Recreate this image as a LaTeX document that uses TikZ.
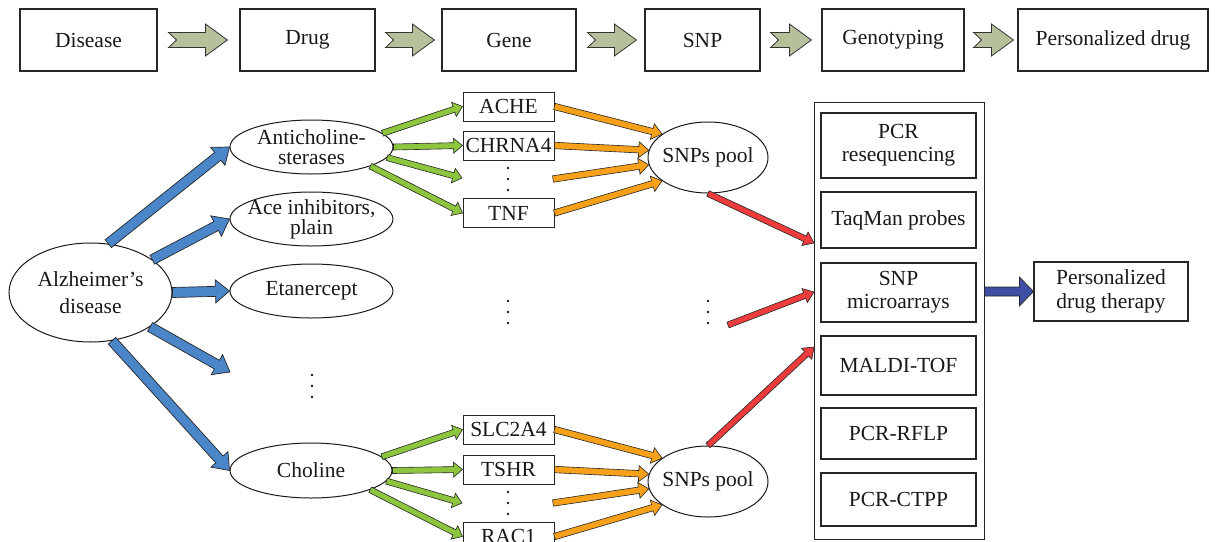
\documentclass[tikz,border=0pt]{standalone}
\usepackage{fontspec}
\setmainfont{Liberation Serif}
\usetikzlibrary{shapes.geometric,calc}
\definecolor{khakiA}{HTML}{B6C19C}
\definecolor{blueA}{HTML}{4A86C8}
\definecolor{greenA}{HTML}{8DC53E}
\definecolor{orangeA}{HTML}{F7A11A}
\definecolor{redA}{HTML}{EE3B3B}
\definecolor{navyA}{HTML}{3F4FA5}
% #1 style, #2 from, #3 to, #4 shaft half width, #5 head half width, #6 head length, #7 tail notch
\newcommand\blockar[7]{%
 \path[#1] let \p1=(#2), \p2=(#3), \n1={atan2(\y2-\y1,\x2-\x1)}, \n2={veclen(\x2-\x1,\y2-\y1)} in
 ([shift={(\p1)},rotate=\n1]0,#4) -- ([shift={(\p1)},rotate=\n1]\n2-#6,#4)
 -- ([shift={(\p1)},rotate=\n1]\n2-#6,#5) -- (\p2)
 -- ([shift={(\p1)},rotate=\n1]\n2-#6,-#5) -- ([shift={(\p1)},rotate=\n1]\n2-#6,-#4)
 -- ([shift={(\p1)},rotate=\n1]0,-#4) -- ([shift={(\p1)},rotate=\n1]#7,0) -- cycle;}
\begin{document}
\begin{tikzpicture}[x=1pt,y=-1pt,
  every node/.style={font=\fontsize{21.5}{23}\selectfont, text=black!90},
  box/.style={draw=black!85, line width=1.1pt, fill=white, rectangle, inner sep=0pt, align=center},
  ell/.style={draw=black!90, line width=1pt, fill=white, ellipse, inner sep=0pt},
  lbl/.style={inner sep=0pt, align=center},
  chev/.style={draw=black!80, line width=0.8pt, fill=khakiA, line join=miter},
  bluear/.style={draw=black!85, line width=0.7pt, fill=blueA},
  greenar/.style={draw=black!85, line width=0.6pt, fill=greenA},
  orangear/.style={draw=black!85, line width=0.6pt, fill=orangeA},
  redar/.style={draw=black!85, line width=0.6pt, fill=redA},
  navyar/.style={draw=black!85, line width=0.7pt, fill=navyA},
  dotfill/.style={fill=black!90}
]
\useasboundingbox (0,0) rectangle (1217,541);
\clip (0,0) rectangle (1217,541);

% ---- top row ----
\node[box, minimum width=137, minimum height=62] (dis) at (88.5,40) {Disease};
\node[box, minimum width=135, minimum height=62] (drug) at (307.5,40) {Drug};
\node[box, minimum width=134, minimum height=62] (gene) at (509,40) {Gene};
\node[box, minimum width=115, minimum height=62] (snp) at (702.5,40) {SNP};
\node[box, minimum width=142, minimum height=62] (geno) at (893,40) {Genotyping};
\node[box, minimum width=190, minimum height=62] (pers) at (1113,40) {Personalized drug};

\blockar{chev}{$(dis.east)+(11,0)$}{$(drug.west)+(-12,0)$}{7.5}{16}{22}{8}
\blockar{chev}{$(drug.east)+(10,0)$}{$(gene.west)+(-7,0)$}{7.5}{16}{22}{8}
\blockar{chev}{$(gene.east)+(11,0)$}{$(snp.west)+(-8,0)$}{7.5}{16}{22}{8}
\blockar{chev}{$(snp.east)+(10,0)$}{$(geno.west)+(-10,0)$}{7.5}{16}{22}{8}
\blockar{chev}{$(geno.east)+(9,0)$}{$(pers.west)+(-4,0)$}{7.5}{16}{22}{8}

% ---- ellipses ----
\node[ell, minimum width=163, minimum height=99] (alz) at (90.5,292.5) {};
\node[lbl] (alzT) at (alz) {Alzheimer’s\\[4pt]disease};
\node[ell, minimum width=163, minimum height=54] (anti) at (311.5,147) {};
\node[lbl] (antiT) at (anti) {Anticholine-\\[-3pt]sterases};
\node[ell, minimum width=163, minimum height=54] (ace) at (311.5,219) {};
\node[lbl] (aceT) at (ace) {Ace inhibitors,\\[-3pt]plain};
\node[ell, minimum width=163, minimum height=54] (etan) at (311.5,291) {};
\node[lbl] (etanT) at (etan) {Etanercept};
\node[ell, minimum width=162, minimum height=55] (chol) at (311,470.5) {};
\node[lbl] (cholT) at (chol) {Choline};
\node[ell, minimum width=120, minimum height=71] (pool1) at (708,157.5) {};
\node[lbl] (pool1T) at (pool1) {SNPs pool};
\node[ell, minimum width=120, minimum height=71] (pool2) at (708,481.5) {};
\node[lbl] (pool2T) at (pool2) {SNPs pool};

% ---- gene boxes ----
\node[box, line width=1pt, minimum width=91, minimum height=29] (ache) at (508.5,106.5) {ACHE};
\node[box, line width=1pt, minimum width=91, minimum height=29] (chrna) at (508.5,145.5) {CHRNA4};
\node[box, line width=1pt, minimum width=91, minimum height=29] (tnf) at (508.5,213) {TNF};
\node[box, line width=1pt, minimum width=91, minimum height=29] (slc) at (508.5,429.5) {SLC2A4};
\node[box, line width=1pt, minimum width=91, minimum height=29] (tshr) at (508.5,469.5) {TSHR};
\node[box, line width=1pt, minimum width=91, minimum height=29] (rac) at (508.5,536.5) {RAC1};

% ---- genotyping methods ----
\node[box, line width=1pt, minimum width=170, minimum height=437] (cont) at (899,320.5) {};
\node[box, minimum width=155, minimum height=65] (pcr) at (898.5,145.5) {PCR\\[0pt]resequencing};
\node[box, minimum width=155, minimum height=56] (taq) at (898.5,220) {TaqMan probes};
\node[box, minimum width=155, minimum height=59] (micro) at (898.5,292.5) {SNP\\microarrays};
\node[box, minimum width=155, minimum height=59] (maldi) at (898.5,365.5) {MALDI-TOF};
\node[box, minimum width=155, minimum height=51] (rflp) at (898.5,433.5) {PCR-RFLP};
\node[box, minimum width=155, minimum height=53] (ctpp) at (898.5,499.5) {PCR-CTPP};
\node[box, minimum width=154, minimum height=59] (pdt) at (1111,291.5) {Personalized\\[1pt]drug therapy};

% ---- free arrow ends ----
\coordinate (bdots) at (230,372);
\coordinate (g1d) at (462,178);
\coordinate (g2d) at (462,503);
\coordinate (o1d) at (553,179);
\coordinate (o2d) at (553,503);
\coordinate (r1) at (814,243);
\coordinate (r2s) at (728,325);
\coordinate (r2) at (814,292);
\coordinate (r3) at (814,347);

% ---- blue arrows ----
\blockar{bluear}{alz.70}{anti.west}{5}{11.5}{15}{0}
\blockar{bluear}{alz.28}{ace.west}{5}{11.5}{15}{0}
\blockar{bluear}{alz.east}{etan.west}{5}{11.5}{14}{0}
\blockar{bluear}{alz.-30}{bdots}{5}{11.5}{15}{0}
\blockar{bluear}{alz.-66}{chol.west}{5}{11.5}{15}{0}

% ---- green arrows ----
\blockar{greenar}{anti.11}{ache.west}{3}{7.5}{9}{0}
\blockar{greenar}{anti.east}{chrna.west}{3}{7.5}{9}{0}
\blockar{greenar}{anti.-8}{g1d}{3}{7.5}{9}{0}
\blockar{greenar}{anti.-18}{tnf.west}{3}{7.5}{9}{0}
\blockar{greenar}{chol.11}{slc.west}{3}{7.5}{9}{0}
\blockar{greenar}{chol.east}{tshr.west}{3}{7.5}{9}{0}
\blockar{greenar}{chol.-8}{g2d}{3}{7.5}{9}{0}
\blockar{greenar}{chol.-18}{rac.west}{3}{7.5}{9}{0}

% ---- orange arrows ----
\blockar{orangear}{ache.east}{pool1.153}{3.2}{8}{10}{0}
\blockar{orangear}{chrna.east}{pool1.173}{3.2}{8}{10}{0}
\blockar{orangear}{o1d}{pool1.-173}{3.2}{8}{10}{0}
\blockar{orangear}{tnf.east}{pool1.-153}{3.2}{8}{10}{0}
\blockar{orangear}{slc.east}{pool2.153}{3.2}{8}{10}{0}
\blockar{orangear}{tshr.east}{pool2.173}{3.2}{8}{10}{0}
\blockar{orangear}{o2d}{pool2.-173}{3.2}{8}{10}{0}
\blockar{orangear}{rac.east}{pool2.-153}{3.2}{8}{10}{0}

% ---- red arrows ----
\blockar{redar}{pool1.south}{r1}{3}{7.5}{10}{0}
\blockar{redar}{r2s}{r2}{3}{7.5}{10}{0}
\blockar{redar}{pool2.north}{r3}{3}{7.5}{10}{0}

% ---- navy arrow ----
\blockar{navyar}{cont.east |- pdt.west}{pdt.west}{4.5}{14.5}{14}{0}

% ---- ellipsis dots ----
\foreach \x/\y in {508/179, 508/312, 708/312, 312/386, 508/503}{
  \foreach \k in {-11,0,11}{ \fill[dotfill] (\x,\y+\k) circle (1.3pt); }
}
\end{tikzpicture}
\end{document}
